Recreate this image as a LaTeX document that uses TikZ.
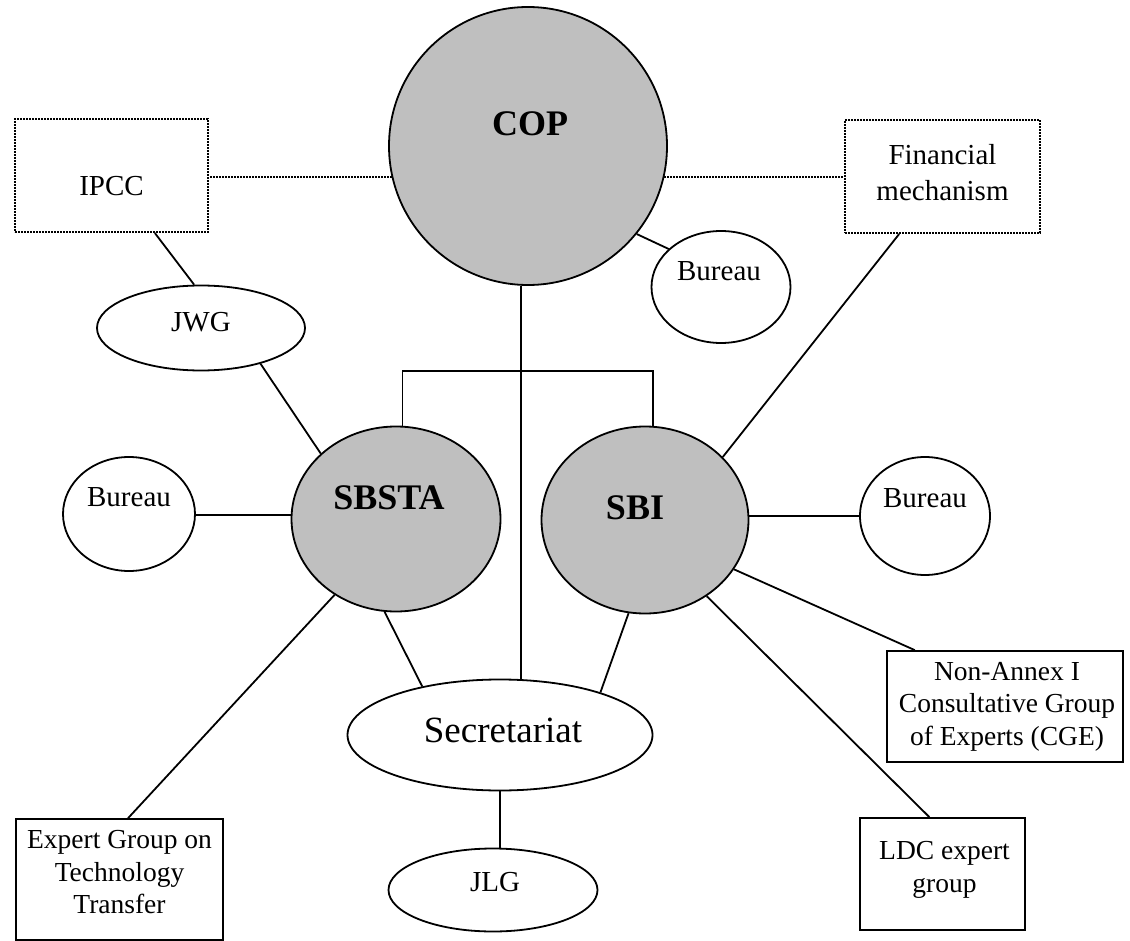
\documentclass[tikz,border=0pt]{standalone}
\usepackage{fontspec}
\setmainfont{Liberation Serif}
\usetikzlibrary{shapes.geometric}
\begin{document}
\begin{tikzpicture}[x=1pt,y=-1pt,
  line width=1.8pt,
  ell/.style={draw, ellipse, inner sep=0pt, fill=white},
  hub/.style={draw, ellipse, inner sep=0pt, fill=black!25},
  box/.style={draw, rectangle, inner sep=0pt, fill=white},
  dbox/.style={draw, rectangle, inner sep=0pt, dash pattern=on 1.6pt off 1.4pt, line width=2pt},
  dline/.style={dash pattern=on 1.6pt off 1.4pt, line width=2pt},
  tx/.style={font=\fontsize{29}{36}\selectfont, align=center, inner sep=0pt},
  bx/.style={font=\fontsize{27.5}{32.5}\selectfont, align=center, inner sep=0pt},
  bd/.style={font=\bfseries\fontsize{36}{40}\selectfont, inner sep=0pt},
  big/.style={font=\fontsize{37}{42}\selectfont, inner sep=0pt}
]
\fill[white] (0,0) rectangle (1130,941);
\useasboundingbox (0,0) rectangle (1130,941);

% main bodies
\node[hub, minimum width=278pt, minimum height=278pt,
      label={[bd, xshift=2pt, yshift=22pt]center:COP}] (cop) at (528,146) {};
\node[hub, minimum width=209pt, minimum height=185pt,
      label={[bd, xshift=-7pt, yshift=21pt]center:SBSTA}] (sbsta) at (396,519) {};
\node[hub, minimum width=207pt, minimum height=187pt,
      label={[bd, xshift=-10pt, yshift=12pt]center:SBI}] (sbi) at (645,520) {};

% dotted boxes
\node[dbox, minimum width=193pt, minimum height=113pt,
      label={[tx, yshift=-11pt]center:IPCC}] (ipcc) at (111.5,175.5) {};
\node[dbox, minimum width=195pt, minimum height=113pt,
      label={[tx, yshift=4pt]center:Financial\\mechanism}] (fin) at (942.5,176.5) {};

% ellipses
\node[ell, minimum width=208pt, minimum height=85pt,
      label={[tx, yshift=6pt]center:JWG}] (jwg) at (201,328) {};
\node[ell, minimum width=139pt, minimum height=112pt,
      label={[tx, xshift=-2pt, yshift=16pt]center:Bureau}] (bcop) at (721,287) {};
\node[ell, minimum width=132pt, minimum height=114pt,
      label={[tx, yshift=17pt]center:Bureau}] (bl) at (129,514) {};
\node[ell, minimum width=130pt, minimum height=118pt,
      label={[tx, yshift=18pt]center:Bureau}] (br) at (925,516) {};
\node[ell, minimum width=305pt, minimum height=111pt,
      label={[big, xshift=3pt, yshift=5pt]center:Secretariat}] (secr) at (500,735) {};
\node[ell, minimum width=209pt, minimum height=83pt,
      label={[tx, xshift=2pt, yshift=8pt]center:JLG}] (jlg) at (493,890) {};

% solid boxes
\node[box, minimum width=207pt, minimum height=121pt,
      label={[bx, yshift=7pt]center:Expert Group on\\Technology\\Transfer}] (egtt) at (119.5,879.5) {};
\node[box, minimum width=236pt, minimum height=111pt,
      label={[bx, xshift=2pt]center:Non-Annex I\\Consultative Group\\of Experts (CGE)}] (cge) at (1005,706.5) {};
\node[box, minimum width=165pt, minimum height=112pt,
      label={[bx, xshift=2pt, yshift=4pt]center:LDC expert\\group}] (ldc) at (942.5,874) {};

\coordinate (bk) at (520,371);

% dotted connectors
\draw[dline] (cop.193.7) -- (cop.193.7 -| ipcc.east);
\draw[dline] (cop.-13.7) -- (cop.-13.7 -| fin.west);

% solid connectors
\draw (ipcc.-53.2) -- (jwg.99.7);
\draw (jwg.-31.4) -- (sbsta.139.9);
\draw (bl.east |- sbsta.178) -- (sbsta.178);
\draw (sbsta.231.1) -- (egtt.82.1);
\draw (sbsta.263.3) -- (secr.148.8);
\draw (sbi.260.9) -- (secr.23.5);
\draw (cop.-93.3) -- (cop.-93.3 |- secr.north);
\draw (sbsta.86) |- (bk) -| (sbi.85);
\draw (cop.-39.8) -- (bcop.144.4);
\draw (sbi.39.3) -- (fin.233.1);
\draw (sbi.2.8) -- (sbi.2.8 -| br.west);
\draw (sbi.-29) -- (cge.148.9);
\draw (sbi.-51.1) -- (ldc.103.6);
\draw (secr.south) -- (secr.south |- jlg.north);
\end{tikzpicture}
\end{document}
